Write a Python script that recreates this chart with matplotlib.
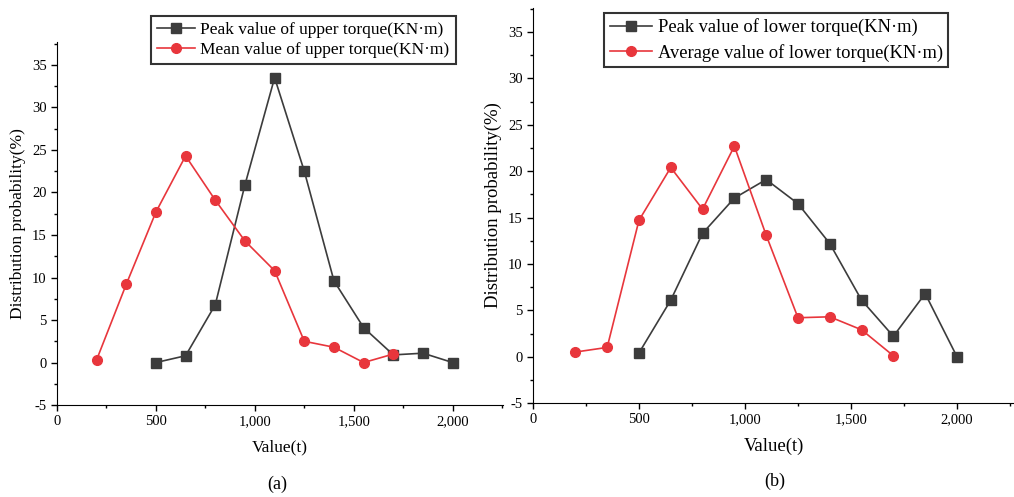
import matplotlib
matplotlib.use("Agg")
import matplotlib.pyplot as plt
from matplotlib.ticker import FuncFormatter, MultipleLocator

plt.rcParams['font.family'] = ['Liberation Serif', 'DejaVu Serif']

x_peak = [500, 650, 800, 950, 1100, 1250, 1400, 1550, 1700, 1850, 2000]
x_mean = [200, 350, 500, 650, 800, 950, 1100, 1250, 1400, 1550, 1700]

upper_peak = [0, 0.8, 6.8, 20.9, 33.5, 22.5, 9.6, 4.1, 0.9, 1.1, 0]
upper_mean = [0.3, 9.2, 17.7, 24.3, 19.1, 14.3, 10.8, 2.5, 1.8, 0, 1.0]
lower_peak = [0.4, 6.1, 13.3, 17.1, 19.1, 16.5, 12.2, 6.1, 2.2, 6.8, 0]
lower_mean = [0.5, 1.0, 14.7, 20.4, 15.9, 22.7, 13.1, 4.2, 4.3, 2.9, 0.1]

labels_a = ["Peak value of upper torque(KN·m)", "Mean value of upper torque(KN·m)"]
labels_b = ["Peak value of lower torque(KN·m)", "Average value of lower torque(KN·m)"]

BLACK = "#3c3c3c"
RED = "#e8363c"

fig = plt.figure(figsize=(10.14, 4.97), dpi=100)
ax1 = fig.add_axes([0.0562, 0.185, 0.44, 0.7305])
ax2 = fig.add_axes([0.5256, 0.189, 0.4744, 0.795])

def style(ax, xmax, ymax, labfs):
    for s in ['top', 'right']:
        ax.spines[s].set_visible(False)
    ax.set_xlim(0, xmax)
    ax.set_ylim(-5, ymax)
    ax.xaxis.set_major_locator(MultipleLocator(500))
    ax.xaxis.set_minor_locator(MultipleLocator(250))
    ax.yaxis.set_major_locator(MultipleLocator(5))
    ax.yaxis.set_minor_locator(MultipleLocator(2.5))
    ax.xaxis.set_major_formatter(FuncFormatter(lambda v, p: f"{int(v):,}"))
    ax.yaxis.set_major_formatter(FuncFormatter(lambda v, p: f"{int(v)}"))
    ax.tick_params(which='major', direction='out', length=4, width=1, labelsize=10.5)
    ax.tick_params(which='minor', direction='out', length=2.5, width=1)
    ax.set_xlabel("Value(t)", fontsize=labfs, labelpad=8)
    ax.set_ylabel("Distribution probability(%)", fontsize=labfs, labelpad=4)

def plot_panel(ax, yp, ym, labels):
    ax.plot(x_peak, yp, color=BLACK, lw=1.2, marker='s', ms=6.5, mfc=BLACK, mec=BLACK, label=labels[0])
    ax.plot(x_mean, ym, color=RED, lw=1.2, marker='o', ms=7, mfc=RED, mec=RED, label=labels[1])

plot_panel(ax1, upper_peak, upper_mean, labels_a)
style(ax1, 2255, 37.7, 12.5)
leg1 = ax1.legend(loc='upper left', bbox_to_anchor=(151/1014, 1-16/497), bbox_transform=fig.transFigure,
                  borderaxespad=0, fontsize=12.5, frameon=True, fancybox=False, edgecolor='black',
                  borderpad=0.35, handlelength=2.2, handletextpad=0.3, labelspacing=0.2)
leg1.get_frame().set_linewidth(1.5)

plot_panel(ax2, lower_peak, lower_mean, labels_b)
style(ax2, 2269, 37.6, 13.5)
leg2 = ax2.legend(loc='upper left', bbox_to_anchor=(604/1014, 1-13/497), bbox_transform=fig.transFigure,
                  borderaxespad=0, fontsize=13.3, frameon=True, fancybox=False, edgecolor='black',
                  borderpad=0.3, handlelength=2.3, handletextpad=0.3, labelspacing=0.4)
leg2.get_frame().set_linewidth(1.5)

fig.text(277/1014, 1-484/497, "(a)", ha='center', va='center', fontsize=13)
fig.text(775/1014, 1-481/497, "(b)", ha='center', va='center', fontsize=13)

fig.savefig("out.png", dpi=100)
